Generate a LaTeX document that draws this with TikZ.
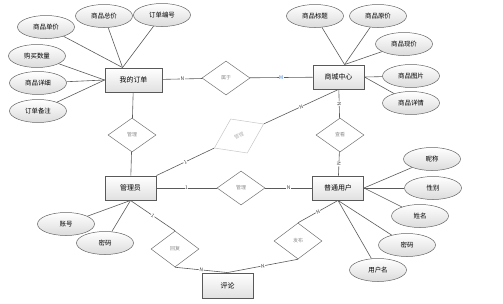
\documentclass[tikz,border=0pt]{standalone}
\usepackage{fontspec}
\newfontfamily\cjk{Noto Sans CJK SC}
\usetikzlibrary{shapes.geometric,positioning,calc}
\definecolor{linkgray}{HTML}{5A5A5A}
\definecolor{cardblue}{HTML}{3A7BD5}

\begin{document}
\begin{tikzpicture}[x=1bp,y=-1bp,font=\cjk\fontsize{6.5}{7}\selectfont,
  entity/.style={draw=black!65,line width=0.9pt,top color=white,bottom color=black!12,
    minimum width=51bp,minimum height=24bp,inner sep=0pt,font=\cjk\fontsize{7}{8}\selectfont},
  attr/.style={ellipse,draw=black!60,line width=0.5pt,top color=white,bottom color=black!14,
    minimum width=57bp,minimum height=23bp,inner sep=0pt},
  rel/.style={diamond,draw=black!55,line width=0.5pt,fill=white,minimum width=48bp,
    minimum height=34bp,inner sep=0pt,font=\cjk\fontsize{5}{6}\selectfont,text=black!45},
  link/.style={draw=linkgray,line width=0.6pt},
  card/.style={font=\cjk\fontsize{5}{6}\selectfont,fill=white,inner sep=0.5pt,text=black!75}]
\useasboundingbox (0,0) rectangle (503,303);

% entities
\node[entity,minimum width=57bp] (order) at (133.5,80) {我的订单};
\node[entity] (mall) at (338.5,77) {商城中心};
\node[entity] (admin) at (130.5,188) {管理员};
\node[entity] (user) at (338,188) {普通用户};
\node[entity,minimum height=25bp] (comment) at (227.5,285.5) {评论};

% attributes
\node[attr] (o-unit) at (46,27) {商品单价};
\node[attr] (o-total) at (104,16) {商品总价};
\node[attr] (o-no) at (162,15) {订单编号};
\node[attr] (o-qty) at (37,56) {购买数量};
\node[attr] (o-detail) at (38,83) {商品详细};
\node[attr] (o-note) at (38,111) {订单备注};
\node[attr] (g-title) at (315,16) {商品标题};
\node[attr] (g-orig) at (378,16) {商品原价};
\node[attr] (g-now) at (404,44) {商品现价};
\node[attr] (g-pic) at (411,76) {商品图片};
\node[attr] (g-info) at (411,103) {商品详情};
\node[attr] (u-nick) at (432,159) {昵称};
\node[attr] (u-sex) at (433,188) {性别};
\node[attr] (u-name) at (420,216) {姓名};
\node[attr] (u-pwd) at (407,245) {密码};
\node[attr] (u-login) at (378,270) {用户名};
\node[attr] (a-acc) at (66,224) {账号};
\node[attr] (a-pwd) at (105,243) {密码};

% relationships
\node[rel] (r-belong) at (226,78) {属于};
\node[rel] (r-manage1) at (132,135) {管理};
\node[rel,rotate=26,minimum width=55bp,minimum height=38bp,draw=black!22,text=black!30]
  (r-manage2) at (239,136) {管理};
\node[rel] (r-manage3) at (241,188) {管理};
\node[rel] (r-view) at (340,135) {查看};
\node[rel,minimum height=36bp] (r-reply) at (175,249) {回复};
\node[rel,minimum height=36bp] (r-post) at (298,241) {发布};

\coordinate (order-top) at ($(order.north west)+(18,0)$);
\coordinate (mall-top) at ($(mall.north west)+(32,0)$);

% attribute links
\foreach \a in {o-unit,o-total,o-no} \draw[link] (order-top) -- (\a);
\foreach \a in {o-qty,o-detail,o-note} \draw[link] (order.west) -- (\a);
\foreach \a in {g-title,g-orig,g-now} \draw[link] (mall-top) -- (\a);
\foreach \a in {g-pic,g-info} \draw[link] (mall.east) -- (\a);
\foreach \a in {u-nick,u-sex,u-name} \draw[link] (user.east) -- (\a);
\foreach \a in {u-pwd,u-login} \draw[link] (user.south) -- (\a);
\foreach \a in {a-acc,a-pwd} \draw[link] (admin.south) -- (\a);

% relationship links
\draw[link] (order) -- node[card]{N} (r-belong);
\draw[link] (r-belong) -- node[card,text=cardblue]{M} (mall);
\draw[link] (order) -- (r-manage1) -- (admin);
\draw[link] (mall) -- node[card,sloped]{N} (r-view);
\draw[link] (r-view) -- node[card,sloped]{N} (user);
\draw[link] (admin.north east) -- node[card,sloped]{1} (r-manage2.west);
\draw[link] (r-manage2.east) -- node[card,sloped]{N} (mall.south);
\draw[link] (admin) -- node[card]{1} (r-manage3);
\draw[link] (r-manage3) -- node[card]{N} (user);
\draw[link] (admin.south) -- node[card,sloped]{1} (r-reply.north);
\draw[link] (r-reply.south) -- node[card,sloped]{N} (comment.north);
\draw[link] (comment.north) -- node[card,sloped]{N} (r-post.south);
\draw[link] (r-post.north) -- node[card,sloped]{N} (user.south);
\end{tikzpicture}
\end{document}
